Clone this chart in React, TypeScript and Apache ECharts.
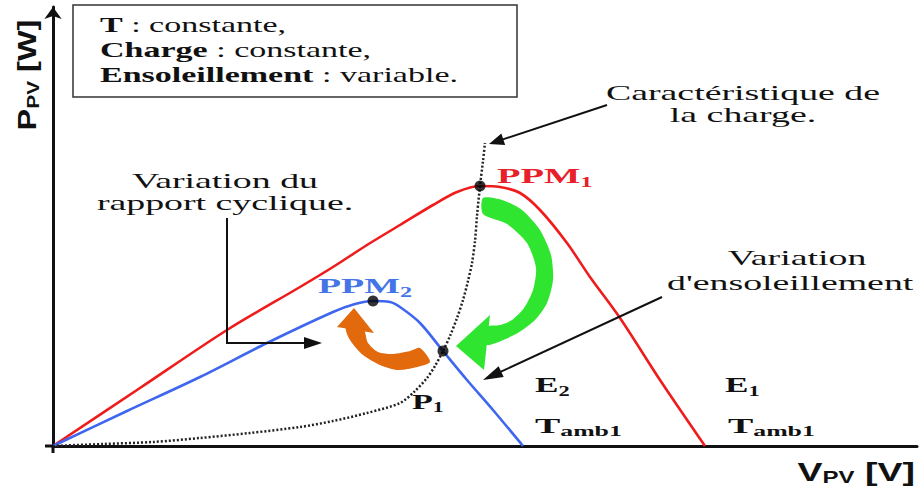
import React, { useEffect, useRef } from 'react';
import * as echarts from 'echarts';

// ---- data (arbitrary units: V_PV on x, P_PV on y) ----
const redCurve: [number, number][] = [
  [0, 0], [8.7, 5.8], [17.4, 11.6], [24.7, 15.9], [28.0, 17.9], [31.4, 20.1], [34.7, 22.1],
  [38.0, 24.1], [40.4, 25.4], [42.7, 26.0], [44.7, 25.9], [46.7, 25.3], [48.7, 23.6],
  [51.4, 20.3], [53.7, 16.9], [56.7, 12.8], [60.7, 6.6], [65.2, 0],
];
const blueCurve: [number, number][] = [
  [0, 0], [7.4, 3.5], [14.7, 6.9], [21.4, 10.3], [28.0, 13.4], [30.2, 14.2], [32.0, 14.5],
  [33.7, 14.4], [34.7, 13.9], [36.7, 12.3], [39.0, 9.5], [41.4, 6.6], [44.0, 3.6], [47.0, 0],
];
const loadCurve: [number, number][] = [
  [0, 0], [5, 0.2], [10, 0.4], [14.7, 0.8], [19.7, 1.3], [24.7, 1.9], [28, 2.5], [31.4, 3.3],
  [34.7, 4.3], [36.2, 5.5], [37.4, 6.8], [38.2, 8.0], [39.0, 9.5], [39.7, 11.0], [40.4, 12.8],
  [41.0, 14.6], [41.5, 16.5], [41.9, 18.3], [42.2, 20.5], [42.4, 23.0], [42.7, 26.0],
  [43.0, 28.5], [43.2, 30.3],
];
const pointNames = ['PPM1', 'PPM2', 'P1'];
const pointValues: [number, number][] = [[42.7, 26.0], [32.0, 14.5], [39.0, 9.5]];

const legendLines = [
  { bold: 'T', rest: ' : constante,' },
  { bold: 'Charge', rest: ' : constante,' },
  { bold: 'Ensoleillement', rest: ' : variable.' },
];

const SERIF = '"Liberation Serif", "DejaVu Serif", serif';
const SANS = '"Liberation Sans", "DejaVu Sans", Arial, sans-serif';

// decorative arrow outlines, pixel offsets relative to the anchor operating point
const greenBandOuter = [[3, 12], [22, 14], [42, 24], [60, 44], [71, 69], [73, 94], [67, 117], [55, 134], [36, 148], [6, 159]];
const greenBandInner = [[6, 141], [20, 139], [32, 134], [44, 122], [53, 104], [56, 82], [47, 57], [27, 38], [3, 28]];
const greenHead = [[4, 184], [-24, 160], [10, 129]];
const orangeBandOuter = [[57, 61], [40, 67], [24, 69], [7, 64], [-10, 54], [-21, 42], [-26, 33], [-27, 24]];
const orangeBandInner = [[-10, 26], [-8, 31], [-5, 42], [5, 51], [20, 53], [37, 50], [47, 47]];
const orangeHead = [[-36, 26], [-19, 7], [1, 32]];

export default function App() {
  const ref = useRef<HTMLDivElement>(null);
  useEffect(() => {
    const chart = echarts.init(ref.current!, null, { renderer: 'svg' });
    const axisCommon = {
      type: 'value',
      axisTick: { show: false },
      axisLabel: { show: false },
      splitLine: { show: false },
    };
    chart.setOption({
      animation: false,
      backgroundColor: '#fff',
      grid: { left: 53, top: 7, right: 2, bottom: 46 },
      xAxis: {
        ...axisCommon,
        min: 0,
        max: 86.4,
        axisLine: { lineStyle: { color: '#111', width: 3 } },
      },
      yAxis: {
        ...axisCommon,
        min: 0,
        max: 43.9,
        axisLine: {
          symbol: ['none', 'arrow'],
          symbolSize: [13, 12],
          lineStyle: { color: '#111', width: 3 },
        },
      },
      series: [
        {
          type: 'line', data: loadCurve, smooth: 0.3, showSymbol: false,
          lineStyle: { color: '#222', width: 2.5, type: [2, 2] }, z: 3,
        },
        {
          type: 'line', data: redCurve, smooth: 0.3, showSymbol: false,
          lineStyle: { color: '#f01c1c', width: 2.6 }, z: 2,
        },
        {
          type: 'line', data: blueCurve, smooth: 0.3, showSymbol: false,
          lineStyle: { color: '#3f66ee', width: 2.6 }, z: 2,
        },
        {
          type: 'scatter', data: pointValues.map((v, i) => ({ name: pointNames[i], value: v })),
          symbolSize: 11, itemStyle: { color: '#000' }, z: 10,
        },
      ],
    });

    const px = (p: number[]) => chart.convertToPixel({ gridIndex: 0 }, p) as number[];
    const els: any[] = [];

    const text = (p: number[], str: string, rich: any, o: any = {}) => {
      const [x, y] = px(p);
      els.push({
        type: 'text', x, y, scaleX: o.scaleX ?? 1, rotation: o.rotation ?? 0, z: 20,
        style: {
          text: str, rich,
          fill: o.fill ?? '#111',
          fontFamily: o.fontFamily ?? SERIF,
          fontSize: o.fontSize ?? 22,
          fontWeight: o.fontWeight ?? 'normal',
          align: o.align ?? 'left', textAlign: o.align ?? 'left',
          verticalAlign: 'middle', textVerticalAlign: 'middle',
        },
      });
    };

    const arrowHead = (tail: number[], tip: number[], L: number, W: number, color: string) => {
      const dx = tip[0] - tail[0], dy = tip[1] - tail[1];
      const d = Math.hypot(dx, dy);
      const ux = dx / d, uy = dy / d;
      const bx = tip[0] - ux * L, by = tip[1] - uy * L;
      els.push({
        type: 'polygon', z: 15,
        shape: { points: [tip, [bx - uy * W / 2, by + ux * W / 2], [bx + uy * W / 2, by - ux * W / 2]] },
        style: { fill: color },
      });
      return [bx + ux * 2, by + uy * 2];
    };

    const arrow = (pts: number[][], L: number, W: number) => {
      const p = pts.map(px);
      const base = arrowHead(p[p.length - 2], p[p.length - 1], L, W, '#111');
      const linePts = [...p.slice(0, -1), base];
      els.push({
        type: 'polyline', z: 14, shape: { points: linePts },
        style: { stroke: '#111', lineWidth: 2, fill: null },
      });
    };

    // small overhang of both axes past the origin
    const o = px([0, 0]);
    els.push({ type: 'line', z: 4, shape: { x1: o[0] - 8, y1: o[1], x2: o[0], y2: o[1] }, style: { stroke: '#111', lineWidth: 3 } });
    els.push({ type: 'line', z: 4, shape: { x1: o[0], y1: o[1], x2: o[0], y2: o[1] + 7 }, style: { stroke: '#111', lineWidth: 3 } });

    // legend box
    const tl = px([2.0, 44.1]);
    const br = px([46.4, 34.9]);
    els.push({
      type: 'rect', z: 5,
      shape: { x: tl[0], y: tl[1], width: br[0] - tl[0], height: br[1] - tl[1] },
      style: { fill: '#fff', stroke: '#333', lineWidth: 1.5 },
    });
    const legRich = {
      b: { fontFamily: SERIF, fontWeight: 'bold', fontSize: 21, fill: '#111', color: '#111' },
      r: { fontFamily: SERIF, fontWeight: 'normal', fontSize: 21, fill: '#111', color: '#111' },
    };
    const legY = [42.1, 39.6, 37.1];
    legendLines.forEach((l, i) => {
      text([4.7, legY[i]], `{b|${l.bold}}{r|${l.rest}}`, legRich, { scaleX: 1.62, fontSize: 21 });
    });

    // annotation texts
    const reg = (c = '#111') => ({ r: { fontFamily: SERIF, fontSize: 22, fill: c, color: c } });
    text([17.2, 26.5], '{r|Variation du}', reg(), { align: 'center', scaleX: 1.72 });
    text([17.2, 24.3], '{r|rapport cyclique.}', reg(), { align: 'center', scaleX: 1.72 });
    text([69.0, 35.3], '{r|Caractéristique de}', reg(), { align: 'center', scaleX: 1.72 });
    text([69.0, 33.1], '{r|la charge.}', reg(), { align: 'center', scaleX: 1.72 });
    text([74.4, 18.8], '{r|Variation}', reg(), { align: 'center', scaleX: 1.72 });
    text([61.4, 16.3], "{r|d'ensoleillement}", reg(), { scaleX: 1.72 });

    const boldRich = (c: string, sub = 14) => ({
      m: { fontFamily: SERIF, fontWeight: 'bold', fontSize: 22, lineHeight: 26, fill: c, color: c },
      s: { fontFamily: SERIF, fontWeight: 'bold', fontSize: sub, lineHeight: 12, verticalAlign: 'bottom', fill: c, color: c },
    });
    text([44.4, 27.0], '{m|PPM}{s|1}', boldRich('#e8202a'), { scaleX: 1.75 });
    text([26.5, 16.0], '{m|PPM}{s|2}', boldRich('#4474e6'), { scaleX: 1.72 });
    text([35.9, 4.5], '{m|P}{s|1}', boldRich('#111'), { scaleX: 1.55 });
    text([48.2, 6.1], '{m|E}{s|2}', boldRich('#111'), { scaleX: 1.6 });
    text([67.2, 6.1], '{m|E}{s|1}', boldRich('#111'), { scaleX: 1.6 });
    text([48.2, 2.0], '{m|T}{s|amb1}', boldRich('#111', 15), { scaleX: 1.72 });
    text([67.5, 2.0], '{m|T}{s|amb1}', boldRich('#111', 15), { scaleX: 1.72 });

    // axis names
    const axRich = {
      m: { fontFamily: SANS, fontWeight: 'bold', fontSize: 25, lineHeight: 28, fill: '#111', color: '#111' },
      s: { fontFamily: SANS, fontWeight: 'bold', fontSize: 16, lineHeight: 12, verticalAlign: 'bottom', fill: '#111', color: '#111' },
    };
    text([86.2, -2.6], '{m|V}{s|PV}{m| [V]}', axRich, { align: 'right', scaleX: 1.5 });
    text([-2.6, 37.1], '{m|P}{s|PV}{m| [W]}', axRich, { align: 'center', rotation: Math.PI / 2, scaleX: 1.3 });

    // straight annotation arrows
    arrow([[55.4, 34.1], [43.6, 30.2]], 15, 12);
    arrow([[17.4, 22.8], [17.4, 10.3], [26.9, 10.3]], 18, 12);
    arrow([[60.9, 14.9], [43.0, 6.6]], 20, 12);

    // curved thick arrows
    const shaped = (anchor: number[], outer: number[][], inner: number[][], head: number[][], color: string) => {
      const [ax, ay] = px(anchor);
      const off = (q: number[]) => [ax + q[0], ay + q[1]];
      els.push({
        type: 'polygon', z: 8,
        shape: { points: [...outer, ...inner].map(off), smooth: 0.25 },
        style: { fill: color },
      });
      els.push({ type: 'polygon', z: 8, shape: { points: head.map(off) }, style: { fill: color } });
    };
    shaped(pointValues[0], greenBandOuter, greenBandInner, greenHead, '#2fe52f');
    shaped(pointValues[1], orangeBandOuter, orangeBandInner, orangeHead, '#e2690c');

    chart.setOption({ graphic: { elements: els } });
    return () => chart.dispose();
  }, []);
  return (
    <div
      ref={ref}
      style={{ position: 'fixed', left: 0, top: 0, width: 919, height: 492, background: '#fff' }}
    />
  );
}
